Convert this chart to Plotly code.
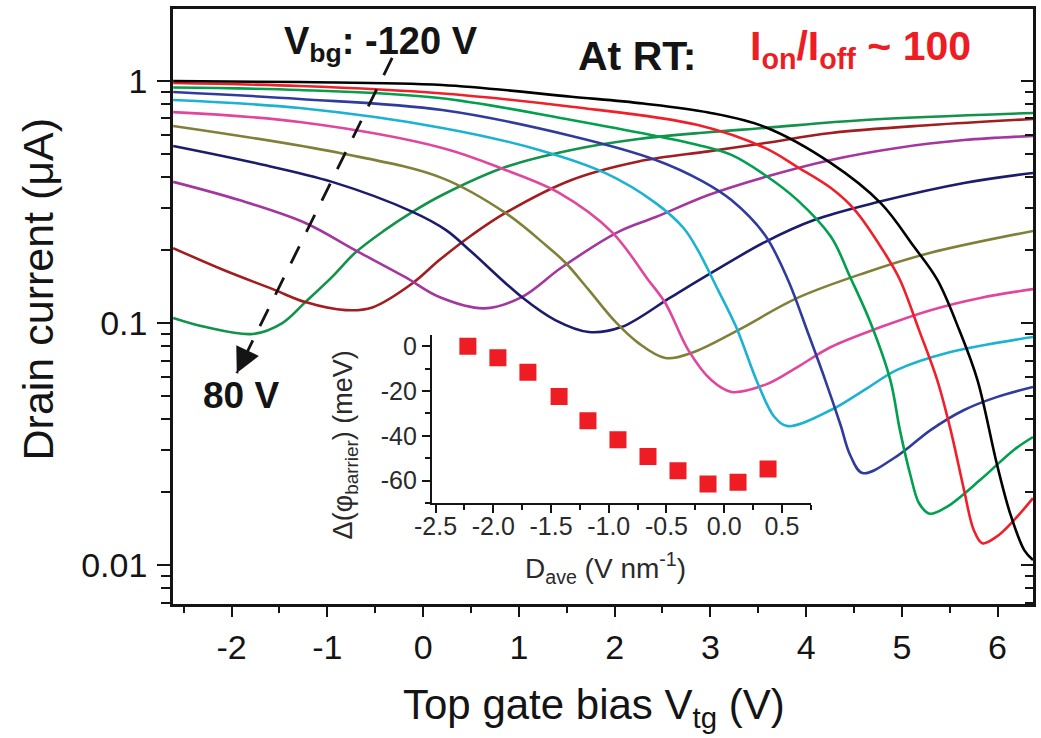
import numpy as np
import plotly.graph_objects as go

# ---------------------------------------------------------------------------
# Transfer curves: drain current (uA) vs top-gate bias Vtg (V), one per Vbg
# ---------------------------------------------------------------------------
vbg_values = [-120, -100, -80, -60, -40, -20, 0, 20, 40, 60, 80]

vtg_m120 = [-2.61, -1.29, 0.20, 1.55, 2.30, 2.98, 3.57, 4.26, 4.78, 5.13, 5.37, 5.60, 5.79, 5.99, 6.13, 6.28, 6.37]
id_m120 = [1.00, 0.99, 0.963, 0.861, 0.807, 0.741, 0.646, 0.458, 0.313, 0.206, 0.151, 0.0935, 0.0581, 0.0264, 0.0164, 0.0115, 0.0105]

vtg_m100 = [-2.61, -1.29, 0.17, 1.55, 2.87, 3.57, 3.91, 4.26, 4.51, 4.82, 4.98, 5.18, 5.37, 5.51, 5.65, 5.75, 5.84, 5.99, 6.17, 6.37]
id_m100 = [0.981, 0.953, 0.890, 0.783, 0.658, 0.529, 0.441, 0.361, 0.293, 0.195, 0.151, 0.0935, 0.0581, 0.0361, 0.0204, 0.0140, 0.0123, 0.0131, 0.0153, 0.0189]

vtg_m80 = [-2.61, -1.29, 0.17, 1.55, 2.87, 3.22, 3.57, 3.91, 4.26, 4.46, 4.67, 4.88, 4.98, 5.09, 5.18, 5.29, 5.47, 5.82, 6.17, 6.37]
id_m80 = [0.940, 0.918, 0.851, 0.690, 0.544, 0.495, 0.409, 0.322, 0.227, 0.155, 0.101, 0.0581, 0.0361, 0.0235, 0.0180, 0.0163, 0.0174, 0.0225, 0.0299, 0.0338]

vtg_m60 = [-2.61, -1.29, 0.20, 1.55, 2.43, 2.92, 3.22, 3.57, 3.81, 4.02, 4.20, 4.36, 4.46, 4.59, 4.95, 5.30, 5.65, 5.99, 6.37]
id_m60 = [0.901, 0.843, 0.759, 0.593, 0.472, 0.385, 0.322, 0.231, 0.151, 0.0910, 0.0581, 0.0379, 0.0285, 0.0240, 0.0282, 0.0361, 0.0437, 0.0494, 0.0544]

vtg_m40 = [-2.61, -1.29, 0.20, 1.21, 1.90, 2.43, 2.72, 2.87, 3.08, 3.27, 3.50, 3.67, 3.81, 4.26, 4.61, 4.95, 5.47, 6.37]
id_m40 = [0.835, 0.773, 0.640, 0.519, 0.417, 0.313, 0.247, 0.200, 0.137, 0.0962, 0.0557, 0.0409, 0.0375, 0.0437, 0.0529, 0.0640, 0.0752, 0.0875]

vtg_m20 = [-2.61, -1.29, 0.20, 0.86, 1.42, 1.97, 2.35, 2.53, 2.77, 3.01, 3.22, 3.57, 3.91, 4.26, 4.78, 5.30, 5.82, 6.37]
id_m20 = [0.744, 0.677, 0.529, 0.429, 0.345, 0.238, 0.151, 0.121, 0.0773, 0.0581, 0.0519, 0.0555, 0.0658, 0.0796, 0.0962, 0.113, 0.127, 0.138]

vtg_0 = [-2.61, -0.87, 0.20, 0.86, 1.28, 1.49, 1.73, 2.01, 2.25, 2.53, 2.80, 3.29, 3.91, 4.61, 5.30, 6.37]
id_0 = [0.652, 0.504, 0.397, 0.285, 0.210, 0.177, 0.137, 0.101, 0.0826, 0.0717, 0.0752, 0.0935, 0.127, 0.161, 0.195, 0.240]

vtg_p20 = [-2.61, -1.75, -0.95, -0.11, 0.24, 0.51, 1.03, 1.38, 1.73, 2.07, 2.59, 3.01, 3.57, 4.09, 4.75, 5.65, 6.37]
id_p20 = [0.539, 0.458, 0.383, 0.288, 0.242, 0.196, 0.128, 0.1028, 0.0918, 0.0962, 0.128, 0.161, 0.216, 0.267, 0.316, 0.379, 0.417]

vtg_p40 = [-2.61, -1.92, -1.23, -0.71, -0.19, 0.17, 0.64, 1.03, 1.45, 2.04, 2.43, 2.98, 3.57, 4.26, 4.95, 5.65, 6.37]
id_p40 = [0.383, 0.322, 0.259, 0.200, 0.155, 0.128, 0.115, 0.128, 0.170, 0.238, 0.274, 0.338, 0.401, 0.472, 0.529, 0.570, 0.593]

vtg_p60 = [-2.61, -2.09, -1.57, -1.23, -0.81, -0.53, -0.11, 0.17, 0.51, 0.86, 1.55, 2.25, 2.98, 3.57, 4.26, 5.30, 6.37]
id_p60 = [0.204, 0.166, 0.138, 0.122, 0.113, 0.116, 0.146, 0.182, 0.231, 0.285, 0.390, 0.465, 0.512, 0.554, 0.610, 0.658, 0.697]

vtg_p80 = [-2.61, -2.27, -1.78, -1.47, -1.23, -0.95, -0.71, -0.40, -0.11, 0.20, 0.86, 1.55, 2.25, 2.98, 3.57, 4.61, 6.37]
id_p80 = [0.105, 0.0962, 0.0901, 0.100, 0.122, 0.155, 0.195, 0.242, 0.288, 0.338, 0.441, 0.519, 0.576, 0.614, 0.640, 0.690, 0.738]

curve_colors = ["#000000", "#f0202a", "#00a04e", "#2f3c9e", "#1cb2d2", "#e0479c",
                "#808038", "#1c1c6c", "#a3379f", "#a11d1f", "#12924a"]

# Inset: barrier height shift vs average displacement field
d_ave = [-2.22, -1.96, -1.70, -1.43, -1.18, -0.92, -0.66, -0.40, -0.14, 0.12, 0.38]
d_phi = [0.0, -5.2, -11.6, -22.5, -33.3, -41.8, -49.2, -55.6, -61.5, -60.7, -54.8]

# Tick labels
x_tick_vals = [-2, -1, 0, 1, 2, 3, 4, 5, 6]
x_tick_text = ["-2", "-1", "0", "1", "2", "3", "4", "5", "6"]
y_tick_vals = [0.01, 0.1, 1]
y_tick_text = ["0.01", "0.1", "1"]
inset_x_vals = [-2.5, -2.0, -1.5, -1.0, -0.5, 0.0, 0.5]
inset_x_text = ["-2.5", "-2.0", "-1.5", "-1.0", "-0.5", "0.0", "0.5"]
inset_y_vals = [0, -20, -40, -60]
inset_y_text = ["0", "-20", "-40", "-60"]

# ---------------------------------------------------------------------------
W, H = 1041, 738
PL, PR, PT, PB = 173, 1036, 9, 604          # plot-area edges in pixels
X_RANGE = [-2.612, 6.37]
Y_RANGE = [-2.161, 0.2975]                   # log10 of current range
FONT = "Liberation Sans, Arial, Helvetica, sans-serif"
INK = "#141414"


def fx(xp):
    return (xp - PL) / (PR - PL)


def fy(yp):
    return (PB - yp) / (PB - PT)


vtg_sets = [vtg_m120, vtg_m100, vtg_m80, vtg_m60, vtg_m40, vtg_m20,
            vtg_0, vtg_p20, vtg_p40, vtg_p60, vtg_p80]
id_sets = [id_m120, id_m100, id_m80, id_m60, id_m40, id_m20,
           id_0, id_p20, id_p40, id_p60, id_p80]

fig = go.Figure()

# draw from +80 V back to -120 V so the black curve sits on top
for vbg, xs, ys, col in reversed(list(zip(vbg_values, vtg_sets, id_sets, curve_colors))):
    fig.add_trace(go.Scatter(
        x=xs, y=ys, mode="lines", name=f"{vbg} V",
        line=dict(color=col, width=2.6, shape="spline", smoothing=1.0),
        showlegend=False, hoverinfo="skip",
    ))

# dashed guide running from the -120 V label towards the 80 V label
arrow_top = (-0.323, 1.245)
arrow_tip = (-1.946, 0.0621)
fig.add_trace(go.Scatter(
    x=[arrow_top[0], arrow_tip[0]], y=[arrow_top[1], arrow_tip[1]],
    mode="lines", line=dict(color=INK, width=2.8, dash="19px,16px"),
    showlegend=False, hoverinfo="skip",
))

# right-hand mirrored ticks (pointing inward)
fig.add_trace(go.Scatter(x=[], y=[], xaxis="x", yaxis="y3", showlegend=False))

# inset scatter
fig.add_trace(go.Scatter(
    x=d_ave, y=d_phi, mode="markers", xaxis="x2", yaxis="y2",
    marker=dict(symbol="square", size=17, color="#ee1d24", line=dict(width=0)),
    showlegend=False, hoverinfo="skip",
))

axis_common = dict(showgrid=False, zeroline=False, linecolor=INK, tickcolor=INK)

fig.update_layout(
    width=W, height=H,
    margin=dict(l=PL, r=W - PR, t=PT, b=H - PB, pad=0),
    paper_bgcolor="white", plot_bgcolor="rgba(0,0,0,0)",
    font=dict(family=FONT, color=INK),
    xaxis=dict(
        **axis_common, range=X_RANGE, showline=True, linewidth=2.6, mirror=True,
        tickmode="array", tickvals=x_tick_vals, ticktext=x_tick_text,
        ticks="outside", ticklen=10, tickwidth=2.2,
        minor=dict(ticks="outside", dtick=0.5, tick0=0, ticklen=6, tickwidth=2, tickcolor=INK),
        tickfont=dict(size=34, family=FONT, color=INK), ticklabelstandoff=1,
    ),
    yaxis=dict(
        **axis_common, type="log", range=Y_RANGE, showline=True, linewidth=2.6, mirror=True,
        tickmode="array", tickvals=y_tick_vals, ticktext=y_tick_text,
        ticks="outside", ticklen=13, tickwidth=2.2,
        minor=dict(ticks="outside", dtick="D1", ticklen=9, tickwidth=2, tickcolor=INK),
        tickfont=dict(size=34, family=FONT, color=INK), ticklabelstandoff=3,
    ),
    yaxis3=dict(
        **axis_common, type="log", range=Y_RANGE, overlaying="y", anchor="x", side="right",
        showline=False, tickmode="array", tickvals=y_tick_vals, showticklabels=False,
        ticks="inside", ticklen=12, tickwidth=2.2,
        minor=dict(ticks="inside", dtick="D1", ticklen=8, tickwidth=2, tickcolor=INK),
    ),
    xaxis2=dict(
        **axis_common, domain=[fx(433), fx(813)], anchor="y2", range=[-2.53, 0.75],
        showline=True, linewidth=2.4, tickmode="array", tickvals=inset_x_vals, ticktext=inset_x_text,
        ticks="outside", ticklen=8, tickwidth=2,
        minor=dict(ticks="outside", dtick=0.25, tick0=0, ticklen=5, tickwidth=2, tickcolor=INK),
        tickfont=dict(size=25, family=FONT, color="#2a2a2a"), ticklabelstandoff=-8,
    ),
    yaxis2=dict(
        **axis_common, domain=[fy(503), fy(335)], anchor="x2", range=[-70, 5],
        showline=True, linewidth=2.4, tickmode="array", tickvals=inset_y_vals, ticktext=inset_y_text,
        ticks="outside", ticklen=8, tickwidth=2,
        minor=dict(ticks="outside", dtick=10, tick0=0, ticklen=5, tickwidth=2, tickcolor=INK),
        tickfont=dict(size=25, family=FONT, color="#2a2a2a"), ticklabelstandoff=0,
    ),
)

# arrowhead at the lower end of the dashed guide
fig.add_annotation(
    x=arrow_tip[0], y=np.log10(arrow_tip[1]), xref="x", yref="y",
    ax=11, ay=-23, axref="pixel", ayref="pixel", text="",
    showarrow=True, arrowhead=2, arrowsize=2.0, arrowwidth=2.5, arrowcolor=INK,
)

texts = [
    # (text, x px, y px, size, color, bold, angle, xanchor)
    ("Top gate bias V<sub>tg</sub> (V)", 595, 707, 42, INK, False, 0, "center"),
    ("Drain current (\u03bcA)", 38, 289, 43, INK, False, -90, "center"),
    ("V<sub>bg</sub>: -120 V", 282, 44, 38, INK, True, 0, "left"),
    ("At RT:", 577, 56, 41, INK, True, 0, "left"),
    ("I<sub>on</sub>/I<sub>off</sub> ~ 100", 750, 49, 41, "#ee1d24", True, 0, "left"),
    ("80 V", 241, 395, 37, INK, True, 0, "center"),
    ("D<sub>ave</sub> (V nm<sup>-1</sup>)", 607, 568, 28, "#2a2a2a", False, 0, "center"),
    ("\u0394(\u03c6<sub>barrier</sub>) (meV)", 346, 445, 27, "#2a2a2a", False, -90, "center"),
]
for txt, xp, yp, size, col, bold, ang, xa in texts:
    fig.add_annotation(
        x=fx(xp), y=fy(yp), xref="paper", yref="paper",
        text=f"<b>{txt}</b>" if bold else txt, showarrow=False,
        xanchor=xa, yanchor="middle", textangle=ang,
        font=dict(size=size, color=col, family=FONT),
    )

fig.write_html("out.html")
